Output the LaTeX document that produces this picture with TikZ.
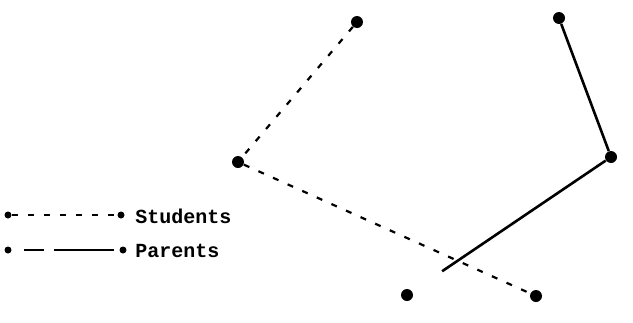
\documentclass[tikz,border=0pt]{standalone}
\usepackage{fontspec}
\setmonofont{Liberation Mono}
\begin{document}
\begin{tikzpicture}[x=0.5pt, y=-0.5pt,
    pt/.style={circle, fill=black, inner sep=0pt, minimum size=6pt},
    keypt/.style={circle, fill=black, inner sep=0pt, minimum size=3.5pt},
    students/.style={line width=1.1pt, dash pattern=on 3pt off 5pt},
    parents/.style={line width=1.3pt},
    lbl/.style={anchor=west, font=\ttfamily\bfseries, inner sep=0pt}]
  \useasboundingbox (0,0) rectangle (633,322);
  % students
  \node[pt] (s1) at (357,22) {};
  \node[pt] (s2) at (238,162) {};
  \node[pt] (s3) at (536,296) {};
  \draw[students] (s1) -- (s2) -- (s3);
  % parents
  \node[pt] (p1) at (559,18) {};
  \node[pt] (p2) at (611,157) {};
  \node[pt] (p3) at (407,295) {};
  \draw[parents] (p1) -- (p2);
  \draw[parents, shorten >=18pt] (p2) -- (p3);
  % key
  \node[keypt] (ks1) at (8,215) {};
  \node[keypt] (ks2) at (121,215) {};
  \draw[students] (ks1) -- (ks2);
  \node[lbl] (ks) at (135,216) {Students};
  \node[keypt] (kp1) at (8,250) {};
  \node[keypt] (kp2) at (123,250) {};
  \draw[parents, line width=0.9pt, dash pattern=on 0pt off 6pt on 10pt off 5pt on 30pt off 20pt]
    (kp1) -- (kp2);
  \node[lbl] (kp) at (135,251) {Parents};
\end{tikzpicture}
\end{document}
